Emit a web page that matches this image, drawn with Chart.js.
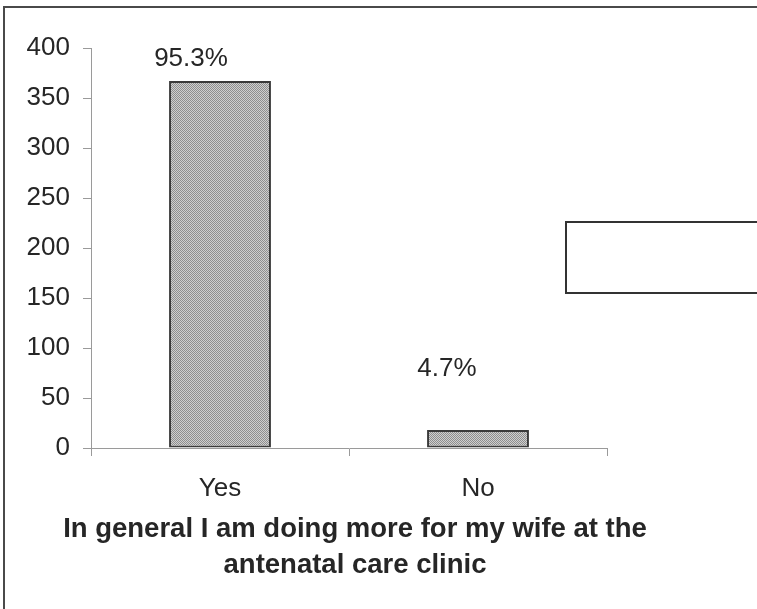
<!DOCTYPE html>
<html>
<head>
<meta charset="utf-8">
<script src="https://cdn.jsdelivr.net/npm/chart.js@4.4.0/dist/chart.umd.min.js"></script>
<style>
  html, body { margin: 0; padding: 0; background: #ffffff; }
  #wrap { width: 757px; height: 609px; position: relative; }
</style>
</head>
<body>
<div id="wrap"><canvas id="chart" width="757" height="609"></canvas></div>
<script>
// Survey answers: number of respondents per reply
const categories = ['Yes', 'No'];
const responses = [367, 18];

// Value axis ticks
const yMin = 0;
const yMax = 400;
const yStep = 50;

// Caption under the chart
const captionLines = [
  'In general I am doing more for my wife at the',
  'antenatal care clinic'
];

const FONT = '"Liberation Sans", Arial, Helvetica, sans-serif';
const TEXT = '#262626';
const AXIS = '#9a9a9a';

// Fine grey stipple used as the bar fill
function stipple() {
  const c = document.createElement('canvas');
  c.width = 2; c.height = 2;
  const g = c.getContext('2d');
  g.fillStyle = '#cfcfcf'; g.fillRect(0, 0, 2, 2);
  g.fillStyle = '#8e8e8e'; g.fillRect(0, 0, 1, 1); g.fillRect(1, 1, 1, 1);
  return g.createPattern(c, 'repeat');
}

const total = responses.reduce((a, b) => a + b, 0);
const shares = responses.map(v => (v / total * 100).toFixed(1) + '%');

// Percentage labels, frame, empty key box and caption
const decorations = {
  id: 'decorations',
  afterDatasetsDraw(chart, args, opts) {
    const ctx = chart.ctx;
    const meta = chart.getDatasetMeta(0);
    ctx.save();
    ctx.fillStyle = TEXT;
    ctx.font = '26px ' + FONT;
    ctx.textAlign = 'center';
    ctx.textBaseline = 'middle';
    meta.data.forEach((bar, i) => {
      const off = opts.labelOffsets[i];
      ctx.fillText(shares[i], bar.x + off[0], bar.y + off[1]);
    });
    ctx.restore();
  },
  afterDraw(chart, args, opts) {
    const ctx = chart.ctx;
    ctx.save();
    // outer frame
    ctx.strokeStyle = '#4a4a4a';
    ctx.lineWidth = 2;
    ctx.strokeRect(4, 7, 800, 700);
    // empty key box
    ctx.strokeStyle = '#333333';
    ctx.strokeRect(566, 222, 220, 71);
    // caption
    ctx.fillStyle = TEXT;
    ctx.font = 'bold 27.5px ' + FONT;
    ctx.textAlign = 'center';
    ctx.textBaseline = 'middle';
    captionLines.forEach((t, i) => ctx.fillText(t, opts.captionX, opts.captionY + i * opts.captionGap));
    ctx.restore();
  }
};

new Chart(document.getElementById('chart'), {
  type: 'bar',
  data: {
    labels: categories,
    datasets: [{
      data: responses,
      backgroundColor: stipple(),
      borderColor: '#3a3a3a',
      borderWidth: 2,
      borderSkipped: false,
      barPercentage: 1,
      categoryPercentage: 0.395
    }]
  },
  options: {
    responsive: false,
    animation: false,
    layout: { padding: { top: 48, right: 150, left: 0, bottom: 0 } },
    plugins: {
      legend: { display: false },
      tooltip: { enabled: false },
      decorations: {
        labelOffsets: [[-29, -22], [-31, -61]],
        captionX: 355,
        captionY: 529,
        captionGap: 36
      }
    },
    scales: {
      x: {
        afterFit(s) { s.height = 161; },
        grid: { offset: true, drawOnChartArea: false, drawTicks: true, tickLength: 8, color: AXIS },
        border: { display: true, color: AXIS, width: 1 },
        ticks: { color: TEXT, font: { family: FONT, size: 26 }, padding: 17 }
      },
      y: {
        min: yMin,
        max: yMax,
        afterFit(s) { s.width = 91; },
        grid: { drawOnChartArea: false, drawTicks: true, tickLength: 8, color: AXIS },
        border: { display: true, color: AXIS, width: 1 },
        ticks: { stepSize: yStep, color: TEXT, font: { family: FONT, size: 26 }, padding: 13 }
      }
    }
  },
  plugins: [decorations]
});
</script>
</body>
</html>
